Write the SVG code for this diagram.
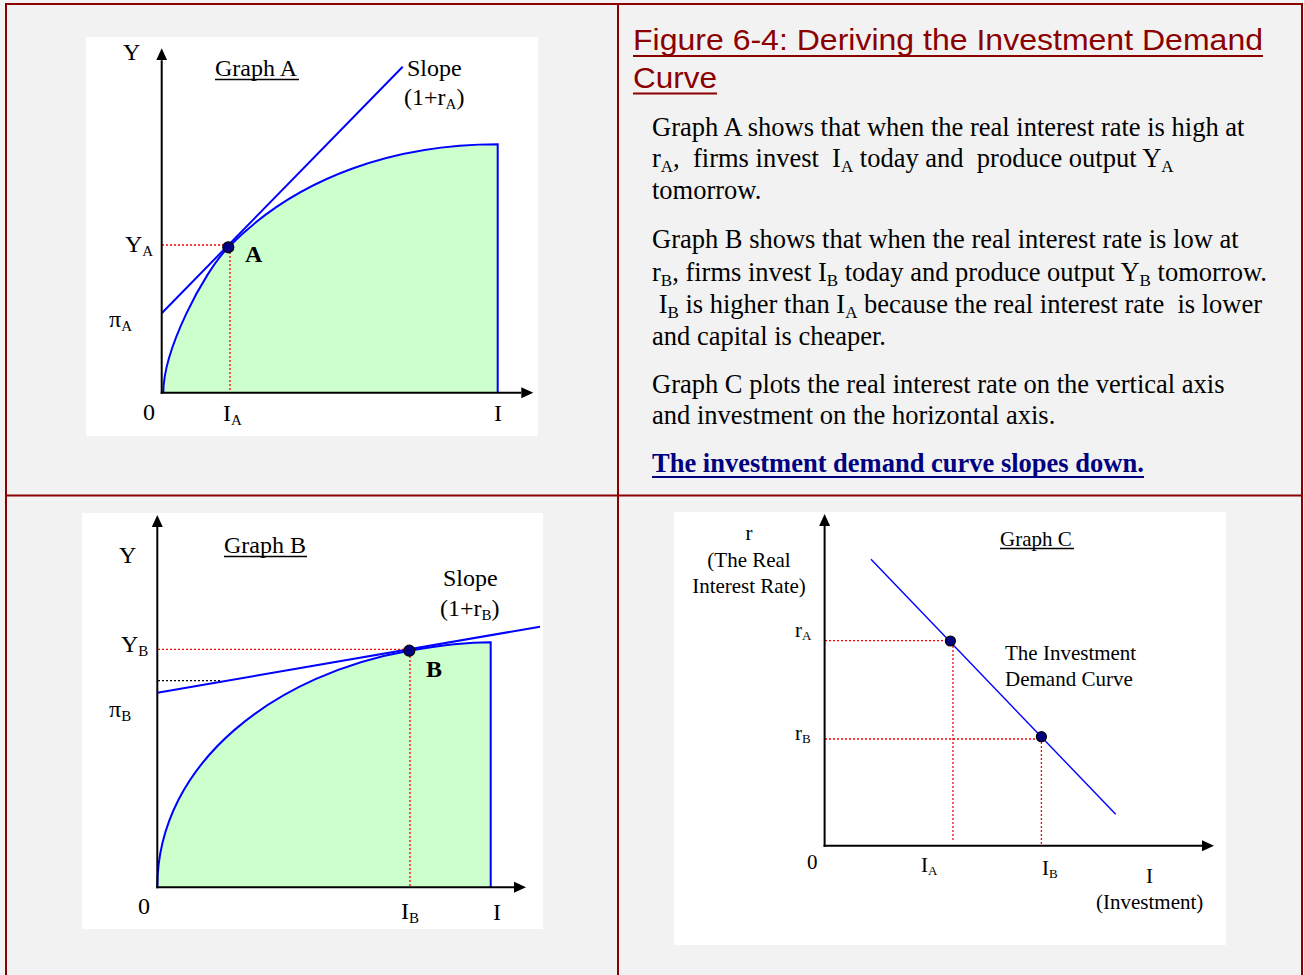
<svg xmlns="http://www.w3.org/2000/svg" width="1304" height="975" viewBox="0 0 1304 975">
<style>
.frame{stroke:#8B0000;stroke-width:2;fill:none}
.panel{fill:#ffffff}
.axis{stroke:#000;stroke-width:2;fill:none}
.curve{stroke:#0000FF;stroke-width:2;fill:none}
.area{fill:#CCFFCC;stroke:none}
.dot{stroke:#FF0000;stroke-width:1.3;stroke-dasharray:2 2;fill:none}
.bdot{stroke:#000;stroke-width:1.3;stroke-dasharray:2 2;fill:none}
.pt{fill:#000080;stroke:#000;stroke-width:1.2}
.lbl{font-family:"Liberation Serif","Times New Roman",serif;font-size:24px;fill:#000;white-space:pre}
.lblc{font-family:"Liberation Serif","Times New Roman",serif;font-size:21px;fill:#000;white-space:pre}
.body{font-family:"Liberation Serif","Times New Roman",serif;font-size:26.5px;fill:#000;white-space:pre}
.title{font-family:"Liberation Sans",Arial,sans-serif;font-size:30px;fill:#8B0000}
.ul{stroke:#000;stroke-width:1.3}
.sub{font-size:15px}
.subb{font-size:17px}
.subc{font-size:13px}
.bold{font-weight:bold}
</style>
<defs>
<marker id="arr" markerUnits="userSpaceOnUse" markerWidth="14" markerHeight="14" refX="0" refY="6" orient="auto" viewBox="0 0 14 12">
<path d="M0,0.5 L12,6 L0,11.5 Z" fill="#000"/>
</marker>
</defs>
<rect x="0" y="0" width="1304" height="975" fill="#F2F2F2"/>
<g id="frame">
<line class="frame" x1="5" y1="4" x2="1303" y2="4"/>
<line class="frame" x1="6" y1="4" x2="6" y2="975"/>
<line class="frame" x1="618" y1="4" x2="618" y2="975"/>
<line class="frame" x1="1302" y1="4" x2="1302" y2="975"/>
<line class="frame" x1="6" y1="495.5" x2="1302" y2="495.5"/>
</g>
<g id="text-panel">
<text class="title" x="633" y="50" textLength="630" lengthAdjust="spacingAndGlyphs">Figure 6-4: Deriving the Investment Demand</text>
<text class="title" x="633" y="88" textLength="84" lengthAdjust="spacingAndGlyphs">Curve</text>
<line x1="633" y1="56" x2="1263" y2="56" stroke="#8B0000" stroke-width="2"/>
<line x1="633" y1="93.5" x2="717" y2="93.5" stroke="#8B0000" stroke-width="2"/>
<text class="body" x="652" y="136">Graph A shows that when the real interest rate is high at</text>
<text class="body" x="652" y="167">r<tspan class="subb" dy="5">A</tspan><tspan dy="-5">,  firms invest  I</tspan><tspan class="subb" dy="5">A</tspan><tspan dy="-5"> today and  produce output Y</tspan><tspan class="subb" dy="5">A</tspan></text>
<text class="body" x="652" y="199">tomorrow.</text>
<text class="body" x="652" y="248">Graph B shows that when the real interest rate is low at</text>
<text class="body" x="652" y="281">r<tspan class="subb" dy="5">B</tspan><tspan dy="-5">, firms invest I</tspan><tspan class="subb" dy="5">B</tspan><tspan dy="-5"> today and produce output Y</tspan><tspan class="subb" dy="5">B</tspan><tspan dy="-5"> tomorrow.</tspan></text>
<text class="body" x="652" y="313"> I<tspan class="subb" dy="5">B</tspan><tspan dy="-5"> is higher than I</tspan><tspan class="subb" dy="5">A</tspan><tspan dy="-5"> because the real interest rate  is lower</tspan></text>
<text class="body" x="652" y="345">and capital is cheaper.</text>
<text class="body" x="652" y="393">Graph C plots the real interest rate on the vertical axis</text>
<text class="body" x="652" y="424">and investment on the horizontal axis.</text>
<text class="body bold" x="652" y="472" style="fill:#000080">The investment demand curve slopes down.</text>
<line x1="652" y1="477" x2="1144" y2="477" stroke="#000080" stroke-width="2.2"/>
</g>
<g id="graph-a">
<rect class="panel" x="86" y="37" width="452" height="399"/>
<path class="area" d="M163.3,392.7 C163.3,350 203,273 228.3,247.3 C300,174 400,144.3 497.7,144.3 L497.7,392.7 Z"/>
<path class="curve" d="M163.3,392.7 C163.3,350 203,273 228.3,247.3 C300,174 400,144.3 497.7,144.3 L497.7,392.7"/>
<line class="curve" x1="161.7" y1="313.3" x2="402.7" y2="66.7"/>
<line class="dot" x1="162" y1="245" x2="226" y2="245"/>
<line class="dot" x1="230" y1="252" x2="230" y2="392"/>
<line class="axis" x1="161.7" y1="393.7" x2="161.7" y2="60.3" marker-end="url(#arr)"/>
<line class="axis" x1="160.7" y1="392.7" x2="521.3" y2="392.7" marker-end="url(#arr)"/>
<circle class="pt" cx="228.3" cy="247.3" r="5.5"/>
<text class="lbl" x="123" y="60">Y</text>
<text class="lbl" x="215" y="76">Graph A</text>
<line class="ul" x1="215" y1="79.5" x2="299" y2="79.5"/>
<text class="lbl" x="407" y="76">Slope</text>
<text class="lbl" x="404" y="105">(1+r<tspan class="sub" dy="4">A</tspan><tspan dy="-4">)</tspan></text>
<text class="lbl" x="125" y="252">Y<tspan class="sub" dy="4">A</tspan></text>
<text class="lbl" x="109" y="327">π<tspan class="sub" dy="4">A</tspan></text>
<text class="lbl bold" x="245" y="262">A</text>
<text class="lbl" x="143" y="420">0</text>
<text class="lbl" x="223" y="421">I<tspan class="sub" dy="4">A</tspan></text>
<text class="lbl" x="494" y="421">I</text>
</g>
<g id="graph-b">
<rect class="panel" x="82" y="513" width="461" height="416"/>
<path class="area" d="M157.3,887.3 C157.3,760 280,673 409.3,650.7 C440,645.4 470,642.3 490.7,642.3 L490.7,887.3 Z"/>
<path class="curve" d="M157.3,887.3 C157.3,760 280,673 409.3,650.7 C440,645.4 470,642.3 490.7,642.3 L490.7,887.3"/>
<line class="curve" x1="157.3" y1="692.7" x2="540" y2="626.7"/>
<line class="dot" x1="158" y1="649.3" x2="405" y2="649.3"/>
<line class="dot" x1="410" y1="656" x2="410" y2="886"/>
<line class="bdot" x1="158" y1="680.7" x2="222" y2="680.7"/>
<line class="axis" x1="157.3" y1="888.3" x2="157.3" y2="527" marker-end="url(#arr)"/>
<line class="axis" x1="156.3" y1="887.3" x2="514" y2="887.3" marker-end="url(#arr)"/>
<circle class="pt" cx="409.3" cy="650.7" r="5.5"/>
<text class="lbl" x="119" y="563">Y</text>
<text class="lbl" x="224" y="553">Graph B</text>
<line class="ul" x1="224" y1="556.5" x2="307" y2="556.5"/>
<text class="lbl" x="443" y="586">Slope</text>
<text class="lbl" x="440" y="616">(1+r<tspan class="sub" dy="4">B</tspan><tspan dy="-4">)</tspan></text>
<text class="lbl" x="121" y="652">Y<tspan class="sub" dy="4">B</tspan></text>
<text class="lbl" x="109" y="717">π<tspan class="sub" dy="4">B</tspan></text>
<text class="lbl bold" x="426" y="677">B</text>
<text class="lbl" x="138" y="914">0</text>
<text class="lbl" x="401" y="919">I<tspan class="sub" dy="4">B</tspan></text>
<text class="lbl" x="493" y="920">I</text>
</g>
<g id="graph-c">
<rect class="panel" x="674" y="512" width="552" height="433"/>
<line x1="871" y1="559.3" x2="1115.7" y2="814.3" stroke="#0000FF" stroke-width="1.4"/>
<line class="dot" x1="825" y1="640.7" x2="947" y2="640.7"/>
<line class="dot" x1="953" y1="646" x2="953" y2="840"/>
<line class="dot" x1="825" y1="739" x2="1037" y2="739"/>
<line class="dot" x1="1041.4" y1="742" x2="1041.4" y2="845"/>
<line class="axis" x1="824.6" y1="846.7" x2="824.6" y2="526" marker-end="url(#arr)"/>
<line class="axis" x1="823.6" y1="845.7" x2="1202" y2="845.7" marker-end="url(#arr)"/>
<circle class="pt" cx="950.4" cy="641" r="5"/>
<circle class="pt" cx="1041.4" cy="736.7" r="5"/>
<text class="lblc" x="749" y="540" text-anchor="middle">r</text>
<text class="lblc" x="749" y="567" text-anchor="middle">(The Real</text>
<text class="lblc" x="749" y="593" text-anchor="middle">Interest Rate)</text>
<text class="lblc" x="1000" y="546">Graph C</text>
<line class="ul" x1="1000" y1="548.5" x2="1074" y2="548.5"/>
<text class="lblc" x="795" y="637">r<tspan class="subc" dy="3">A</tspan></text>
<text class="lblc" x="795" y="740">r<tspan class="subc" dy="3">B</tspan></text>
<text class="lblc" x="1005" y="660">The Investment</text>
<text class="lblc" x="1005" y="686">Demand Curve</text>
<text class="lblc" x="807" y="869">0</text>
<text class="lblc" x="921" y="872">I<tspan class="subc" dy="3">A</tspan></text>
<text class="lblc" x="1042" y="875">I<tspan class="subc" dy="3">B</tspan></text>
<text class="lblc" x="1146" y="883">I</text>
<text class="lblc" x="1096" y="909">(Investment)</text>
</g>
</svg>
